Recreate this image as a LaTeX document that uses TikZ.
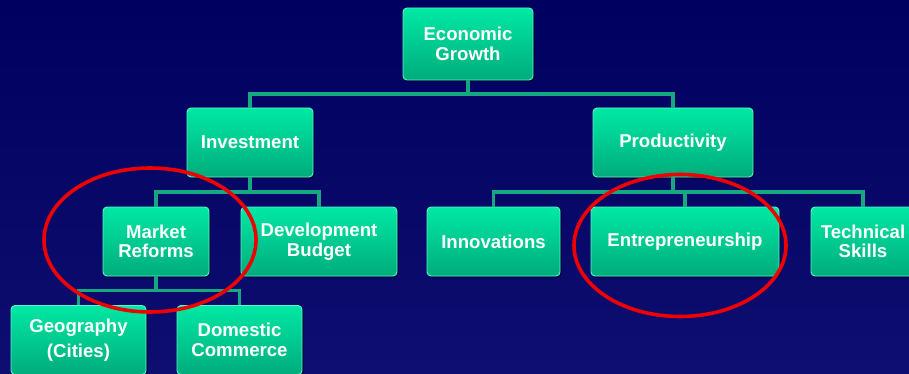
\documentclass[tikz,border=0pt]{standalone}
\usepackage{fontspec}
\setmainfont{Liberation Sans}
\usetikzlibrary{calc,shadows}
\definecolor{bgtop}{RGB}{0,0,96}
\definecolor{bgbot}{RGB}{14,14,112}
\definecolor{boxtop}{RGB}{0,232,164}
\definecolor{boxbot}{RGB}{0,172,124}
\definecolor{boxedge}{RGB}{90,245,205}
\definecolor{connc}{RGB}{22,168,128}
\definecolor{ringred}{RGB}{240,0,0}
\tikzset{
  orgbox/.style={rectangle, rounded corners=4pt, top color=boxtop, bottom color=boxbot,
    draw=boxedge, line width=0.9pt, text=white, align=center, inner sep=2pt,
    font=\bfseries\fontsize{18.6}{19.5}\selectfont, minimum height=69pt,
    drop shadow={shadow xshift=1.5pt, shadow yshift=-1.5pt, fill=black, opacity=0.45}},
  conn/.style={draw=connc, line width=3.2pt},
  ring/.style={draw=ringred, line width=3.6pt}
}
\begin{document}
\begin{tikzpicture}[x=1pt,y=-1pt]
\useasboundingbox (0,0) rectangle (909,374);
\clip (0,0) rectangle (909,374);
\shade[top color=bgtop, bottom color=bgbot] (0,0) rectangle (909,374);

\node[orgbox, minimum width=130pt, minimum height=72pt] (eg) at (468,44) {Economic\\Growth};
\node[orgbox, minimum width=126pt] (inv) at (250,142.5) {Investment};
\node[orgbox, minimum width=160pt] (prod) at (673,142.5) {Productivity};
\node[orgbox, minimum width=106pt] (mr) at (156,241.5) {Market\\Reforms};
\node[orgbox, minimum width=156pt] (db) at (319,241.5) {Development\\Budget};
\node[orgbox, minimum width=133pt] (inn) at (493.5,241.5) {Innovations};
\node[orgbox, minimum width=188pt] (ent) at (685,241.5) {Entrepreneurship};
\node[orgbox, minimum width=104pt] (tech) at (863,241.5) {Technical\\Skills};
\node[orgbox, minimum width=135pt] (geo) at (78.5,340) {Geography\\[6pt](Cities)};
\node[orgbox, minimum width=125pt] (dc) at (239.5,340) {Domestic\\Commerce};

% connectors
\path (eg.south) -- coordinate[pos=.5] (m1) (inv.north);
\draw[conn] (eg.south) -- (eg.south |- m1) -| (inv.north);
\draw[conn] (eg.south |- m1) -| (prod.north);

\path (inv.south) -- coordinate[pos=.5] (m2) (mr.north);
\draw[conn] (inv.south) -- (inv.south |- m2) -| (mr.north);
\draw[conn] (inv.south |- m2) -| (db.north);

\path (prod.south) -- coordinate[pos=.5] (m3) (ent.north);
\draw[conn] (prod.south) -- (prod.south |- m3) -| (inn.north);
\draw[conn] (prod.south |- m3) -| (ent.north);
\draw[conn] (prod.south |- m3) -| (tech.north);

\path (mr.south) -- coordinate[pos=.5] (m4) (geo.north);
\draw[conn] (mr.south) -- (mr.south |- m4) -| (geo.north);
\draw[conn] (mr.south |- m4) -| (dc.north);

% red rings
\draw[ring] (150,240) ellipse [x radius=106pt, y radius=72pt];
\draw[ring] (680,245.5) ellipse [x radius=106pt, y radius=71pt];
\end{tikzpicture}
\end{document}
